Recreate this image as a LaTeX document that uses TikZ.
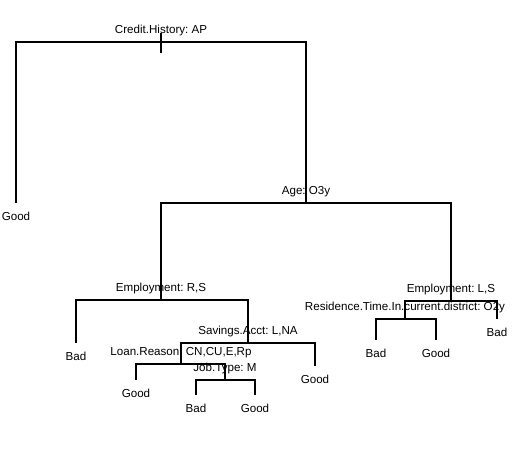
\documentclass[tikz,border=0pt]{standalone}
\usepackage{fontspec}
\setmainfont{Liberation Sans}
\usetikzlibrary{positioning}
\frenchspacing

\begin{document}
\begin{tikzpicture}[
    x=1pt, y=-1pt,
    every node/.style={inner sep=0pt, font=\fontsize{11.6}{13}\selectfont},
    split/.style={text height=8.5pt, text depth=2.5pt},
    leaf/.style={text height=8.5pt, text depth=2.5pt},
    branch/.style={line width=1.9pt, draw=black},
    stub/.style={line width=1.3pt, draw=black}
]
\useasboundingbox (0,0) rectangle (522,466);

% split points
\coordinate (root) at (161,42);
\coordinate (age) at (306,203);
\coordinate (empRS) at (161,300);
\coordinate (sav) at (248,343);
\coordinate (loan) at (181,364);
\coordinate (job) at (225,380);
\coordinate (empLS) at (451,301);
\coordinate (res) at (405,319);

% leaf ends
\coordinate (goodA) at (16,203);
\coordinate (badA) at (76,343);
\coordinate (goodB) at (136,380);
\coordinate (badB) at (196,395);
\coordinate (goodC) at (255,395);
\coordinate (goodD) at (315,366);
\coordinate (badC) at (376,340);
\coordinate (goodE) at (436,340);
\coordinate (badD) at (497,319);

\coordinate (stubtop) at (161,33);
\coordinate (stubbot) at (161,53);

% split labels
\node[split, above=5.5pt of root] (rootlbl) {Credit.History: AP};
\node[split, above=5.5pt of age] (agelbl) {Age: O3y};
\node[split, above=5.5pt of empRS] (empRSlbl) {Employment: R,S};
\node[split, above=5.5pt of sav] (savlbl) {Savings.Acct: L,NA};
\node[split, above=5.5pt of loan] (loanlbl) {Loan.Reason: CN,CU,E,Rp};
\node[split, above=5.5pt of job] (joblbl) {Job.Type: M};
\node[split, above=5.5pt of empLS] (empLSlbl) {Employment: L,S};
\node[split, above=5.5pt of res] (reslbl) {Residence.Time.In.current.district: O2y};

% leaf labels
\node[leaf, below=8.5pt of goodA] (goodAlbl) {Good};
\node[leaf, below=8.5pt of badA] (badAlbl) {Bad};
\node[leaf, below=8.5pt of goodB] (goodBlbl) {Good};
\node[leaf, below=8.5pt of badB] (badBlbl) {Bad};
\node[leaf, below=8.5pt of goodC] (goodClbl) {Good};
\node[leaf, below=8.5pt of goodD] (goodDlbl) {Good};
\node[leaf, below=8.5pt of badC] (badClbl) {Bad};
\node[leaf, below=8.5pt of goodE] (goodElbl) {Good};
\node[leaf, below=8.5pt of badD] (badDlbl) {Bad};

% branches
\draw[stub] (stubtop) -- (stubbot);
\draw[branch] (goodA) |- (root) -| (age);
\draw[branch] (empRS) |- (age) -| (empLS);
\draw[branch] (badA) |- (empRS) -| (sav);
\draw[branch] (loan) |- (sav) -| (goodD);
\draw[branch] (goodB) |- (loan) -| (job);
\draw[branch] (badB) |- (job) -| (goodC);
\draw[branch] (res) |- (empLS) -| (badD);
\draw[branch] (badC) |- (res) -| (goodE);

\end{tikzpicture}
\end{document}
